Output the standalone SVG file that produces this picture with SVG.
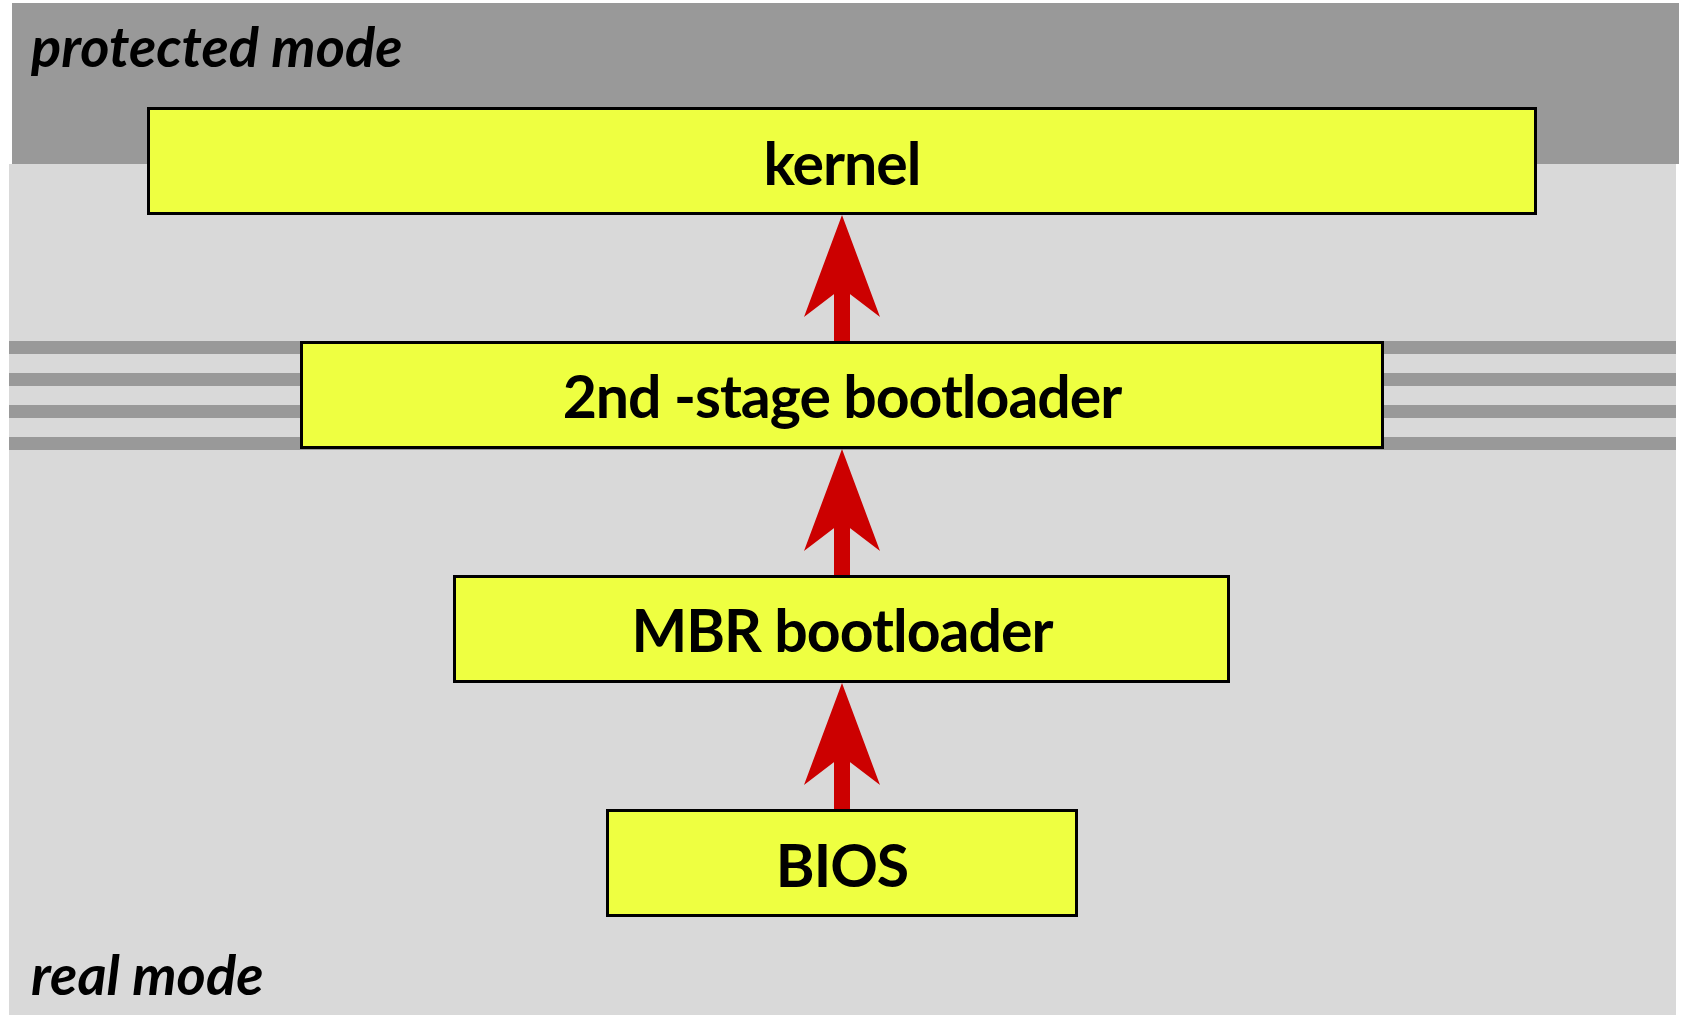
<svg xmlns="http://www.w3.org/2000/svg" width="1681" height="1017" viewBox="0 0 1681 1017">
<style>
.box{fill:#eeff41;stroke:#000;stroke-width:3}
.lbl{font-family:Lato,"Open Sans","Liberation Sans",sans-serif;font-weight:bold;font-size:59px;letter-spacing:-1px;fill:#000;text-anchor:middle}
.mode{font-family:Lato,"Open Sans","Liberation Sans",sans-serif;font-weight:bold;font-style:italic;font-size:56px;fill:#000}
.stripe{fill:#999999}
.conn{stroke:#cc0000;stroke-width:16;fill:none;marker-end:url(#head)}
</style>
<defs>
<marker id="head" markerUnits="userSpaceOnUse" viewBox="-110 -40 120 80" refX="-73" refY="0" markerWidth="120" markerHeight="80" orient="auto" overflow="visible">
<path d="M0,0 L-102,-38 L-73,0 L-102,38 Z" fill="#cc0000"/>
</marker>
</defs>
<g id="background">
<rect x="9" y="164" width="1667" height="851" fill="#d9d9d9"/>
<rect x="12" y="3" width="1667" height="161" fill="#999999"/>
<rect class="stripe" x="9" y="341" width="1667" height="13"/>
<rect class="stripe" x="9" y="373" width="1667" height="13"/>
<rect class="stripe" x="9" y="405" width="1667" height="13"/>
<rect class="stripe" x="9" y="437" width="1667" height="13"/>
<text class="mode" x="31" y="67">protected mode</text>
<text class="mode" x="31" y="995">real mode</text>
</g>
<g id="connectors">
<line class="conn" x1="842" y1="575" x2="842" y2="522"/>
<line class="conn" x1="842" y1="342" x2="842" y2="288"/>
<line class="conn" x1="842" y1="809" x2="842" y2="756"/>
</g>
<g id="kernel">
<rect class="box" x="148.5" y="108.5" width="1387" height="105"/>
<text class="lbl" x="842" y="185">kernel</text>
</g>
<g id="stage2">
<rect class="box" x="301.5" y="342.5" width="1081" height="105"/>
<text class="lbl" x="842" y="418">2nd -stage bootloader</text>
</g>
<g id="mbr">
<rect class="box" x="454.5" y="576.5" width="774" height="105"/>
<text class="lbl" x="842" y="652">MBR bootloader</text>
</g>
<g id="bios">
<rect class="box" x="607.5" y="810.5" width="469" height="105"/>
<text class="lbl" x="842" y="887">BIOS</text>
</g>
</svg>
